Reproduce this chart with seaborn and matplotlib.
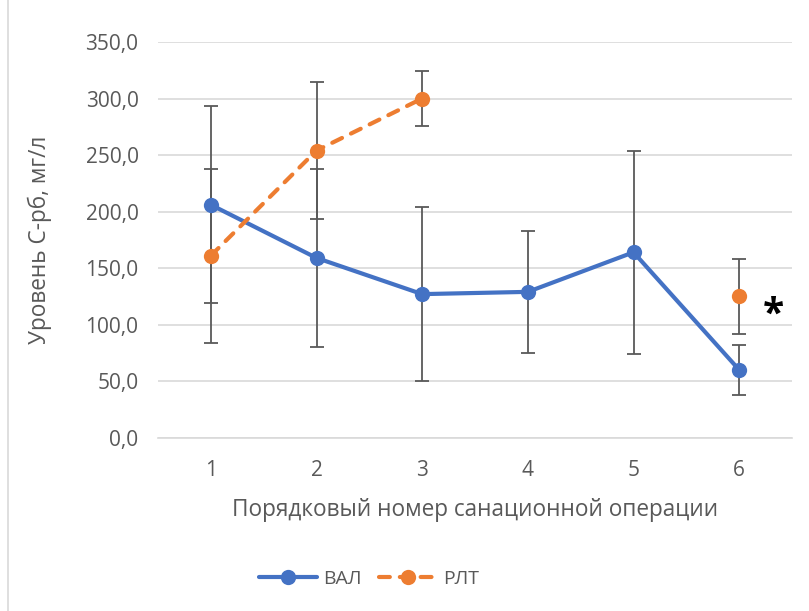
import numpy as np
import pandas as pd
import seaborn as sns
import matplotlib.pyplot as plt
import matplotlib.ticker as ticker
from matplotlib.lines import Line2D

# data
operations = [1, 2, 3, 4, 5, 6]
val_mean = [206, 159, 127, 129, 164, 60]
val_sd = [87, 79, 77, 54, 90, 22]
rlt_mean = [161, 254, 300, np.nan, np.nan, 125]
rlt_sd = [77, 61, 24, np.nan, np.nan, 33]
rlt_segment = [1, 1, 1, 0, 0, 2]

blue = '#4472C4'
orange = '#ED7D31'
grey = '#595959'

df_val = pd.DataFrame({'op': operations, 'value': val_mean, 'sd': val_sd,
                       'group': 'ВАЛ', 'seg': 0})
df_rlt = pd.DataFrame({'op': operations, 'value': rlt_mean, 'sd': rlt_sd,
                       'group': 'РЛТ', 'seg': rlt_segment})
df = pd.concat([df_val, df_rlt]).dropna()
df['seg'] = df['group'] + df['seg'].astype(str)

sns.set_style('white')
plt.rcParams['font.family'] = ['Open Sans', 'DejaVu Sans']

fig = plt.figure(figsize=(8.09, 6.11), dpi=100)
ax = fig.add_axes([0.1953, 0.2836, 0.7837, 0.6477])

# error bars under the lines
for g in ['ВАЛ', 'РЛТ']:
    d = df[df['group'] == g]
    ax.errorbar(d['op'], d['value'], yerr=d['sd'], fmt='none', ecolor=grey,
                elinewidth=1.3, capsize=5, capthick=1.3, zorder=2)

sns.lineplot(data=df, x='op', y='value', hue='group', style='group',
             units='seg', estimator=None, ax=ax,
             palette={'ВАЛ': blue, 'РЛТ': orange},
             dashes={'ВАЛ': '', 'РЛТ': (2.6, 2.4)},
             markers={'ВАЛ': 'o', 'РЛТ': 'o'},
             linewidth=3, markersize=11, markeredgewidth=0,
             dash_capstyle='round', zorder=3, legend=False)

ax.text(6.32, 108, '*', fontsize=28, fontweight='bold', color='black',
        ha='center', va='center')

ax.set_xlim(0.5, 6.5)
ax.set_ylim(0, 350)
ax.set_xticks(operations)
ax.yaxis.set_major_locator(ticker.MultipleLocator(50))
ax.yaxis.set_major_formatter(ticker.FuncFormatter(lambda v, p: f'{v:.1f}'.replace('.', ',')))
ax.grid(axis='y', color='#D9D9D9', linewidth=1.2)
ax.set_axisbelow(True)
for s in ['top', 'right', 'left']:
    ax.spines[s].set_visible(False)
ax.spines['bottom'].set_color('#D9D9D9')
ax.spines['bottom'].set_linewidth(1.2)
ax.tick_params(axis='both', length=0, labelsize=15, colors=grey)
ax.tick_params(axis='x', pad=16)
ax.tick_params(axis='y', pad=14)

ax.set_xlabel('Порядковый номер санационной операции', fontsize=16.3,
              color=grey, labelpad=12)
ax.set_ylabel('Уровень С-рб, мг/л', fontsize=16.3, color=grey, labelpad=24)

handles = [Line2D([], [], color=blue, lw=3, marker='o', markersize=11, mew=0),
           Line2D([], [], color=orange, lw=3, marker='o', markersize=11, mew=0,
                  dashes=(2.6, 2.4), dash_capstyle='round')]
fig.legend(handles, ['ВАЛ', 'РЛТ'], loc='center', bbox_to_anchor=(0.456, 0.053),
           ncol=2, frameon=False, fontsize=14, labelcolor=grey,
           handlelength=3.0, handletextpad=0.3, columnspacing=0.9)

fig.add_artist(Line2D([0.01, 0.01], [0, 1], color='#D9D9D9', lw=1.2,
                      transform=fig.transFigure))

fig.savefig('out.png', dpi=100)
